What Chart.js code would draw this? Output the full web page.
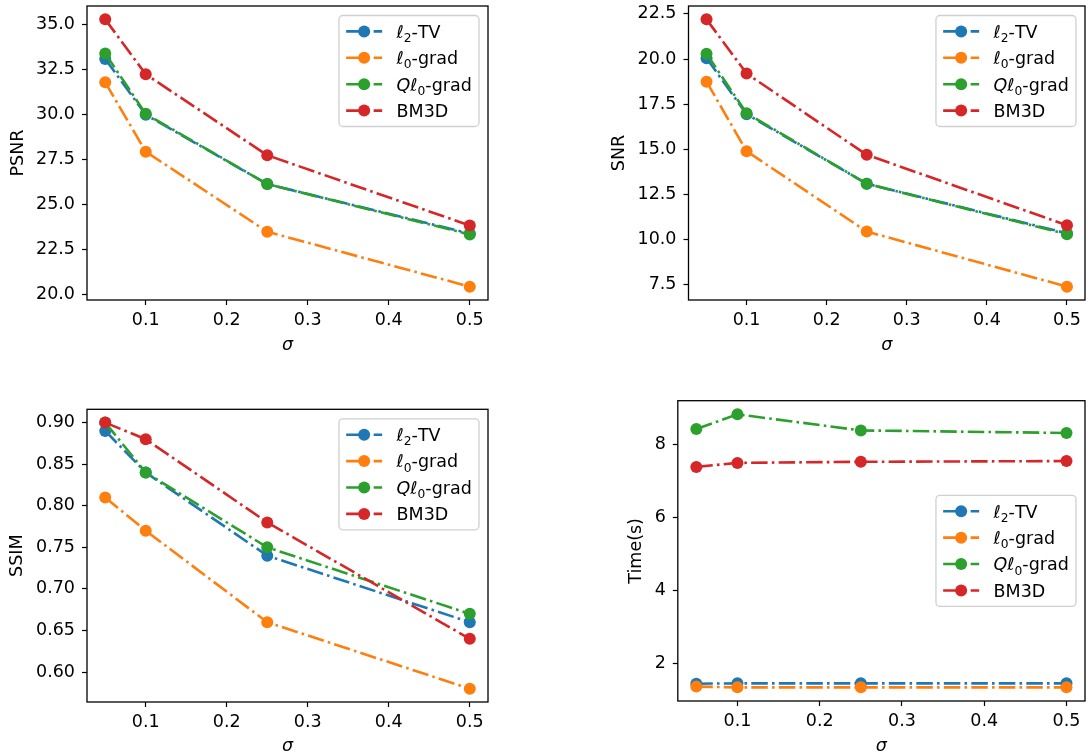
<!DOCTYPE html>
<html lang="es">
<head>
<meta charset="utf-8">
<title>Comparación de métodos de eliminación de ruido</title>
<script src="https://cdn.jsdelivr.net/npm/chart.js@4.4.1/dist/chart.umd.min.js"></script>
<style>
  html, body { margin: 0; padding: 0; background: #fff; }
  #lienzo { position: relative; width: 1091px; height: 756px; overflow: hidden; }
  #lienzo canvas { position: absolute; }
</style>
</head>
<body>
<div id="lienzo">
  <canvas id="psnrChart"></canvas>
  <canvas id="snrChart"></canvas>
  <canvas id="ssimChart"></canvas>
  <canvas id="tiempoChart"></canvas>
</div>
<script>
// niveles de ruido (eje x) y métodos comparados
const sigmas = [0.05, 0.1, 0.25, 0.5];
const metodos = ['ℓ2-TV', 'ℓ0-grad', 'Qℓ0-grad', 'BM3D'];
const colores = ['#1f77b4', '#ff7f0e', '#2ca02c', '#d62728'];

// PSNR por método
const psnrL2tv = [33.1, 30.0, 26.15, 23.4];
const psnrL0 = [31.8, 27.95, 23.5, 20.45];
const psnrQl0 = [33.4, 30.05, 26.15, 23.35];
const psnrBm3d = [35.3, 32.25, 27.75, 23.85];

// SNR por método
const snrL2tv = [20.05, 16.95, 13.1, 10.35];
const snrL0 = [18.75, 14.9, 10.45, 7.4];
const snrQl0 = [20.3, 17.0, 13.1, 10.3];
const snrBm3d = [22.2, 19.2, 14.7, 10.8];

// SSIM por método
const ssimL2tv = [0.89, 0.84, 0.74, 0.66];
const ssimL0 = [0.81, 0.77, 0.66, 0.58];
const ssimQl0 = [0.90, 0.84, 0.75, 0.67];
const ssimBm3d = [0.90, 0.88, 0.78, 0.64];

// tiempo de ejecución (s)
const tiempoL2tv = [1.45, 1.46, 1.46, 1.46];
const tiempoL0 = [1.37, 1.35, 1.35, 1.35];
const tiempoQl0 = [8.43, 8.83, 8.39, 8.32];
const tiempoBm3d = [7.39, 7.5, 7.53, 7.55];

// marcas de los ejes
const sigmaTicks = [0.1, 0.2, 0.3, 0.4, 0.5];
const psnrTicks = [20, 22.5, 25, 27.5, 30, 32.5, 35];
const snrTicks = [7.5, 10, 12.5, 15, 17.5, 20, 22.5];
const ssimTicks = [0.60, 0.65, 0.70, 0.75, 0.80, 0.85, 0.90];
const tiempoTicks = [2, 4, 6, 8];

const FUENTE = 'DejaVu Sans';
const TAM = 17.5;
const GUION = [16.5, 4.2, 2.6, 4.2];
const RADIO = 6;

// margen del 5% alrededor de los datos, como hace matplotlib
function rango(series) {
  const v = series.flat();
  const lo = Math.min(...v), hi = Math.max(...v);
  const m = (hi - lo) * 0.05;
  return { min: lo - m, max: hi + m };
}

// separa la etiqueta en trozos: ℓ y Q en cursiva, el dígito tras ℓ como subíndice
function partes(texto) {
  const out = [];
  for (let i = 0; i < texto.length; i++) {
    const c = texto[i];
    if (c === 'ℓ' || (c === 'Q' && texto[i + 1] === 'ℓ')) out.push({ t: c, cursiva: true });
    else if (/\d/.test(c) && texto[i - 1] === 'ℓ') out.push({ t: c, sub: true });
    else out.push({ t: c });
  }
  return out;
}

function fuenteDe(p) {
  const tam = p.sub ? TAM * 0.7 : TAM;
  return (p.cursiva ? 'italic ' : '') + tam + 'px "' + FUENTE + '"';
}

function medirEtiqueta(ctx, texto) {
  let w = 0;
  partes(texto).forEach(p => { ctx.font = fuenteDe(p); w += ctx.measureText(p.t).width; });
  return w;
}

function dibujarEtiqueta(ctx, texto, x, yc) {
  const base = yc + TAM * 0.36;
  ctx.fillStyle = '#000';
  ctx.textAlign = 'left';
  ctx.textBaseline = 'alphabetic';
  partes(texto).forEach(p => {
    ctx.font = fuenteDe(p);
    ctx.fillText(p.t, x, p.sub ? base + TAM * 0.24 : base);
    x += ctx.measureText(p.t).width;
  });
}

// marco completo de los ejes y leyenda estilo matplotlib
const marcoYLeyenda = {
  id: 'marcoYLeyenda',
  afterDatasetsDraw(chart, args, opts) {
    const ctx = chart.ctx;
    const a = chart.chartArea;
    ctx.save();
    ctx.strokeStyle = '#000';
    ctx.lineWidth = 1.3;
    ctx.strokeRect(a.left, a.top, a.right - a.left, a.bottom - a.top);

    const pad = 7.2, asa = 36, sep = 14.4, fila = 26.4, altoTexto = 17.4;
    const alto = 2 * pad + 4 * altoTexto + 3 * 9;
    const ancho = pad + asa + sep + Math.max(...metodos.map(m => medirEtiqueta(ctx, m))) + pad;
    const x0 = a.right - 9 - ancho;
    const y0 = opts.centro ? (a.top + a.bottom) / 2 - alto / 2 : a.top + 9.5;

    ctx.beginPath();
    ctx.roundRect(x0, y0, ancho, alto, 4);
    ctx.fillStyle = 'rgba(255,255,255,0.8)';
    ctx.fill();
    ctx.strokeStyle = '#d0d0d0';
    ctx.lineWidth = 1.3;
    ctx.stroke();

    chart.data.datasets.forEach((ds, i) => {
      const yc = y0 + pad + altoTexto / 2 + i * fila;
      const hx = x0 + pad;
      ctx.setLineDash(GUION);
      ctx.lineDashOffset = 0;
      ctx.lineCap = 'butt';
      ctx.strokeStyle = ds.borderColor;
      ctx.lineWidth = ds.borderWidth;
      ctx.beginPath();
      ctx.moveTo(hx, yc);
      ctx.lineTo(hx + asa, yc);
      ctx.stroke();
      ctx.setLineDash([]);
      ctx.fillStyle = ds.borderColor;
      ctx.beginPath();
      ctx.arc(hx + asa / 2, yc, ds.pointRadius, 0, Math.PI * 2);
      ctx.fill();
      dibujarEtiqueta(ctx, metodos[i], hx + asa + sep, yc);
    });
    ctx.restore();
  }
};

function crearGrafico(panel) {
  const [cx, cy, cw, ch] = panel.caja;
  const [al, at, ar, ab] = panel.area;
  const canvas = document.getElementById(panel.id);
  canvas.width = cw;
  canvas.height = ch;
  canvas.style.left = cx + 'px';
  canvas.style.top = cy + 'px';

  const datasets = panel.series.map((valores, i) => ({
    label: metodos[i],
    data: sigmas.map((s, j) => ({ x: s, y: valores[j] })),
    borderColor: colores[i],
    backgroundColor: colores[i],
    pointBackgroundColor: colores[i],
    borderWidth: 2.6,
    borderDash: GUION,
    borderCapStyle: 'butt',
    pointRadius: RADIO,
    pointBorderWidth: 0,
    pointHoverRadius: RADIO,
    tension: 0,
    fill: false,
    order: 3 - i
  }));

  const fuenteTicks = { family: FUENTE, size: TAM };
  const rx = rango([sigmas]);
  const ry = rango(panel.series);

  const ejeComun = (ticks, formato) => ({
    type: 'linear',
    afterBuildTicks: s => { s.ticks = ticks.map(v => ({ value: v })); },
    grid: { display: true, drawOnChartArea: false, drawTicks: true, tickLength: 5, tickColor: '#000', tickWidth: 1.2 },
    border: { display: false },
    ticks: { font: fuenteTicks, color: '#000', autoSkip: false, maxRotation: 0, callback: formato }
  });

  const ejeX = ejeComun(sigmaTicks, v => v.toFixed(1));
  Object.assign(ejeX, {
    position: 'bottom', min: rx.min, max: rx.max,
    afterFit: s => { s.height = cy + ch - ab; s.paddingLeft = 0; s.paddingRight = 0; }
  });
  ejeX.ticks.padding = 5;
  ejeX.title = {
    display: true, text: 'σ', color: '#000',
    font: { family: FUENTE, size: TAM, style: 'italic', lineHeight: 1 },
    padding: { top: 0, bottom: cy + ch - panel.tituloX - TAM / 2 }
  };

  const ejeY = ejeComun(panel.ticks, panel.formato);
  Object.assign(ejeY, {
    position: 'left', min: ry.min, max: ry.max,
    afterFit: s => { s.width = al - cx; s.paddingTop = 0; s.paddingBottom = 0; }
  });
  ejeY.ticks.padding = 7;
  ejeY.title = {
    display: true, text: panel.etiquetaY, color: '#000',
    font: { family: FUENTE, size: TAM, lineHeight: 1 },
    padding: { top: panel.tituloY - cx - TAM / 2, bottom: 0 }
  };

  new Chart(canvas.getContext('2d'), {
    type: 'line',
    data: { datasets: datasets },
    options: {
      responsive: false,
      animation: false,
      devicePixelRatio: 1,
      layout: { padding: { left: 0, top: at - cy, right: cx + cw - ar, bottom: 0 } },
      scales: { x: ejeX, y: ejeY },
      plugins: {
        legend: { display: false },
        tooltip: { enabled: false },
        marcoYLeyenda: { centro: panel.leyendaCentro }
      }
    },
    plugins: [marcoYLeyenda]
  });
}

const paneles = [
  {
    id: 'psnrChart', caja: [0, 0, 545, 378], area: [87, 6, 488, 300],
    series: [psnrL2tv, psnrL0, psnrQl0, psnrBm3d], ticks: psnrTicks,
    formato: v => v.toFixed(1), etiquetaY: 'PSNR', tituloY: 18.3, tituloX: 345
  },
  {
    id: 'snrChart', caja: [545, 0, 546, 378], area: [688.5, 6, 1087.5, 300],
    series: [snrL2tv, snrL0, snrQl0, snrBm3d], ticks: snrTicks,
    formato: v => v.toFixed(1), etiquetaY: 'SNR', tituloY: 619.5, tituloX: 345
  },
  {
    id: 'ssimChart', caja: [0, 378, 545, 378], area: [87, 409.3, 488, 702],
    series: [ssimL2tv, ssimL0, ssimQl0, ssimBm3d], ticks: ssimTicks,
    formato: v => v.toFixed(2), etiquetaY: 'SSIM', tituloY: 17.3, tituloX: 746.7
  },
  {
    id: 'tiempoChart', caja: [545, 378, 546, 378], area: [677.8, 400.7, 1086.4, 701],
    series: [tiempoL2tv, tiempoL0, tiempoQl0, tiempoBm3d], ticks: tiempoTicks,
    formato: v => String(Math.round(v)), etiquetaY: 'Time(s)', tituloY: 636.9, tituloX: 746.7,
    leyendaCentro: true
  }
];

paneles.forEach(crearGrafico);
</script>
</body>
</html>
